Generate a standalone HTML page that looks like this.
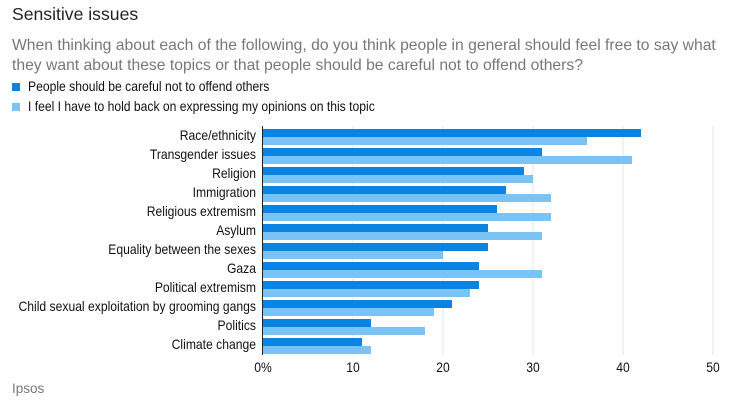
<!DOCTYPE html><html><head><style>body{margin:0;background:#fff;width:746px;height:403px;overflow:hidden;font-family:"Liberation Sans",sans-serif}</style></head><body>
<svg width="746" height="403" xmlns="http://www.w3.org/2000/svg">
<text x="12" y="20" font-size="17.6" fill="#222">Sensitive issues</text>
<text x="12" y="50" font-size="15.7" fill="#777">When thinking about each of the following, do you think people in general should feel free to say what</text>
<text x="12" y="70" font-size="15.7" fill="#777">they want about these topics or that people should be careful not to offend others?</text>
<rect x="12" y="83" width="8" height="8" fill="#0a84e0"/>
<rect x="12" y="103" width="8" height="8" fill="#7cc3f5"/>
<g transform="translate(28,0) scale(0.9,1)" font-size="13.5" fill="#111">
<text x="0" y="91">People should be careful not to offend others</text>
<text x="0" y="111">I feel I have to hold back on expressing my opinions on this topic</text>
</g>
<g stroke="#e4e4e4" stroke-width="1">
<line x1="353" y1="126" x2="353" y2="355"/><line x1="443" y1="126" x2="443" y2="355"/><line x1="533" y1="126" x2="533" y2="355"/><line x1="623" y1="126" x2="623" y2="355"/><line x1="713" y1="126" x2="713" y2="355"/></g>
<g transform="translate(256,0) scale(0.9,1)" font-size="13.5" fill="#111" text-anchor="end">
<text x="0" y="140">Race/ethnicity</text><text x="0" y="159">Transgender issues</text><text x="0" y="178">Religion</text><text x="0" y="197">Immigration</text><text x="0" y="216">Religious extremism</text><text x="0" y="235">Asylum</text><text x="0" y="254">Equality between the sexes</text><text x="0" y="273">Gaza</text><text x="0" y="292">Political extremism</text><text x="0" y="311">Child sexual exploitation by grooming gangs</text><text x="0" y="330">Politics</text><text x="0" y="349">Climate change</text>
</g>
<g fill="#0a84e0">
<rect x="263" y="129" width="378" height="8"/><rect x="263" y="148" width="279" height="8"/><rect x="263" y="167" width="261" height="8"/><rect x="263" y="186" width="243" height="8"/><rect x="263" y="205" width="234" height="8"/><rect x="263" y="224" width="225" height="8"/><rect x="263" y="243" width="225" height="8"/><rect x="263" y="262" width="216" height="8"/><rect x="263" y="281" width="216" height="8"/><rect x="263" y="300" width="189" height="8"/><rect x="263" y="319" width="108" height="8"/><rect x="263" y="338" width="99" height="8"/></g>
<g fill="#7cc3f5">
<rect x="263" y="137" width="324" height="8"/><rect x="263" y="156" width="369" height="8"/><rect x="263" y="175" width="270" height="8"/><rect x="263" y="194" width="288" height="8"/><rect x="263" y="213" width="288" height="8"/><rect x="263" y="232" width="279" height="8"/><rect x="263" y="251" width="180" height="8"/><rect x="263" y="270" width="279" height="8"/><rect x="263" y="289" width="207" height="8"/><rect x="263" y="308" width="171" height="8"/><rect x="263" y="327" width="162" height="8"/><rect x="263" y="346" width="108" height="8"/></g>
<line x1="262.5" y1="126" x2="262.5" y2="355" stroke="#222" stroke-width="1"/>
<g font-size="13.5" fill="#111" text-anchor="middle">
<text x="263" y="372" transform="translate(263,0) scale(0.9,1) translate(-263,0)">0%</text>
<text x="353" y="372" transform="translate(353,0) scale(0.9,1) translate(-353,0)">10</text>
<text x="443" y="372" transform="translate(443,0) scale(0.9,1) translate(-443,0)">20</text>
<text x="533" y="372" transform="translate(533,0) scale(0.9,1) translate(-533,0)">30</text>
<text x="623" y="372" transform="translate(623,0) scale(0.9,1) translate(-623,0)">40</text>
<text x="713" y="372" transform="translate(713,0) scale(0.9,1) translate(-713,0)">50</text></g>
<text x="12" y="393" font-size="13.5" fill="#777">Ipsos</text>
</svg></body></html>
